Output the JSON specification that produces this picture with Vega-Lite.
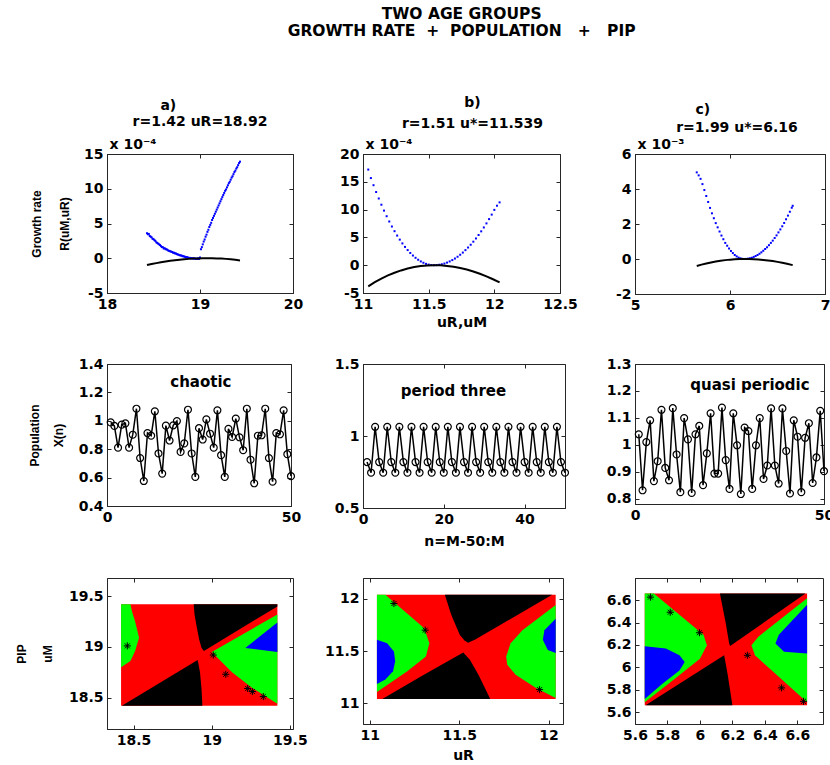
{
"$schema": "https://vega.github.io/schema/vega-lite/v6.json",
"background": "white",
"padding": {"left": 14, "top": 7, "right": 0, "bottom": 0},
"title": {"text": ["TWO AGE GROUPS", "GROWTH RATE\u00a0\u00a0+\u00a0\u00a0POPULATION\u00a0\u00a0\u00a0+\u00a0\u00a0\u00a0PIP"], "font": "DejaVu Sans", "fontSize": 15.5, "fontWeight": "bold", "lineHeight": 17, "anchor": "middle", "offset": 56, "dx": 37},
"columns": 3,
"align": "none",
"bounds": "flush",
"spacing": {"row": 70, "column": 70},
"concat": [
{
 "width": 186, "height": 139,
 "title": {"text": ["a)\u00a0\u00a0\u00a0\u00a0\u00a0\u00a0\u00a0\u00a0\u00a0\u00a0\u00a0\u00a0\u00a0\u200b", "r=1.42 uR=18.92"], "frame": "group", "offset": 8, "lineHeight": 16},
 "resolve": {"axis": {"x": "independent", "y": "independent"}},
 "layer": [
  {"encoding": {
    "x": {"field": "x", "type": "quantitative", "scale": {"domain": [18, 20], "nice": false, "zero": false}, "axis": {"values": [18, 19, 20], "labelExpr": "''+datum.value", "title": "x 10⁻⁴", "titleX": 2, "titleY": -145, "titleAngle": 0, "titleAlign": "left", "titleBaseline": "alphabetic"}},
    "y": {"field": "y", "type": "quantitative", "scale": {"domain": [-5, 15], "nice": false, "zero": false}, "axis": {"values": [-5, 0, 5, 10, 15], "labelExpr": "''+datum.value", "title": ["Growth rate", "R(uM,uR)"], "titlePadding": 12, "titleLineHeight": 28, "titleFont": "Liberation Sans", "titleFontSize": 12}}
   },
   "layer": [
    {"data": {"name": "ga_dots"}, "mark": {"type": "point", "shape": "square", "filled": true, "size": 4, "color": "#0000ff", "opacity": 1}},
    {"data": {"name": "ga_curve"}, "mark": {"type": "line", "color": "#000000", "strokeWidth": 2}}
   ]},
  {"data": {"values": [{"x": 19, "y": 0}]}, "mark": {"type": "point", "opacity": 0},
   "encoding": {
    "x": {"field": "x", "type": "quantitative", "scale": {"domain": [18, 20], "nice": false, "zero": false}, "axis": {"orient": "top", "values": [18, 19, 20], "labels": false, "domain": false, "title": null}},
    "y": {"field": "y", "type": "quantitative", "scale": {"domain": [-5, 15], "nice": false, "zero": false}, "axis": {"orient": "right", "values": [-5, 0, 5, 10, 15], "labels": false, "domain": false, "title": null}}
   }}
 ]
},
{
 "width": 197, "height": 139,
 "title": {"text": ["b)", "r=1.51 u*=11.539"], "frame": "group", "offset": 6, "lineHeight": 21, "dx": 11},
 "resolve": {"axis": {"x": "independent", "y": "independent"}},
 "layer": [
  {"encoding": {
    "x": {"field": "x", "type": "quantitative", "scale": {"domain": [11, 12.5], "nice": false, "zero": false}, "axis": {"values": [11, 11.5, 12, 12.5], "labelExpr": "''+datum.value", "title": "uR,uM", "titlePadding": 4}},
    "y": {"field": "y", "type": "quantitative", "scale": {"domain": [-5, 20], "nice": false, "zero": false}, "axis": {"values": [-5, 0, 5, 10, 15, 20], "labelExpr": "''+datum.value", "title": "x 10⁻⁴", "titleX": 2, "titleY": -6, "titleAngle": 0, "titleAlign": "left", "titleBaseline": "alphabetic"}}
   },
   "layer": [
    {"data": {"name": "gb_dots"}, "mark": {"type": "point", "shape": "square", "filled": true, "size": 4, "color": "#0000ff", "opacity": 1}},
    {"data": {"name": "gb_curve"}, "mark": {"type": "line", "color": "#000000", "strokeWidth": 2}}
   ]},
  {"data": {"values": [{"x": 11.5, "y": 0}]}, "mark": {"type": "point", "opacity": 0},
   "encoding": {
    "x": {"field": "x", "type": "quantitative", "scale": {"domain": [11, 12.5], "nice": false, "zero": false}, "axis": {"orient": "top", "values": [11, 11.5, 12, 12.5], "labels": false, "domain": false, "title": null}},
    "y": {"field": "y", "type": "quantitative", "scale": {"domain": [-5, 20], "nice": false, "zero": false}, "axis": {"orient": "right", "values": [-5, 0, 5, 10, 15, 20], "labels": false, "domain": false, "title": null}}
   }}
 ]
},
{
 "width": 190, "height": 140,
 "title": {"text": ["c)\u00a0\u00a0\u00a0\u00a0\u00a0\u00a0\u00a0\u00a0\u00a0\u00a0\u00a0\u00a0\u00a0\u00a0\u200b", "r=1.99 u*=6.16"], "frame": "group", "offset": 2, "lineHeight": 18, "dx": 7},
 "resolve": {"axis": {"x": "independent", "y": "independent"}},
 "layer": [
  {"encoding": {
    "x": {"field": "x", "type": "quantitative", "scale": {"domain": [5, 7], "nice": false, "zero": false}, "axis": {"values": [5, 6, 7], "labelExpr": "''+datum.value", "title": null}},
    "y": {"field": "y", "type": "quantitative", "scale": {"domain": [-2, 6], "nice": false, "zero": false}, "axis": {"values": [-2, 0, 2, 4, 6], "labelExpr": "''+datum.value", "title": "x 10⁻³", "titleX": 2, "titleY": -6, "titleAngle": 0, "titleAlign": "left", "titleBaseline": "alphabetic"}}
   },
   "layer": [
    {"data": {"name": "gc_dots"}, "mark": {"type": "point", "shape": "square", "filled": true, "size": 4, "color": "#0000ff", "opacity": 1}},
    {"data": {"name": "gc_curve"}, "mark": {"type": "line", "color": "#000000", "strokeWidth": 2}}
   ]},
  {"data": {"values": [{"x": 6, "y": 0}]}, "mark": {"type": "point", "opacity": 0},
   "encoding": {
    "x": {"field": "x", "type": "quantitative", "scale": {"domain": [5, 7], "nice": false, "zero": false}, "axis": {"orient": "top", "values": [5, 6, 7], "labels": false, "domain": false, "title": null}},
    "y": {"field": "y", "type": "quantitative", "scale": {"domain": [-2, 6], "nice": false, "zero": false}, "axis": {"orient": "right", "values": [-2, 0, 2, 4, 6], "labels": false, "domain": false, "title": null}}
   }}
 ]
},
{
 "width": 184, "height": 142,
 "resolve": {"axis": {"x": "independent", "y": "independent"}},
 "layer": [
  {"encoding": {
    "x": {"field": "x", "type": "quantitative", "scale": {"domain": [0, 50], "nice": false, "zero": false}, "axis": {"values": [0, 50], "labelExpr": "''+datum.value", "title": null}},
    "y": {"field": "y", "type": "quantitative", "scale": {"domain": [0.4, 1.4], "nice": false, "zero": false}, "axis": {"values": [0.4, 0.6, 0.8, 1, 1.2, 1.4], "labelExpr": "''+datum.value", "title": ["Population", "X(n)"], "titlePadding": 13, "titleLineHeight": 24, "titleFont": "Liberation Sans", "titleFontSize": 12}}
   },
   "layer": [
    {"data": {"name": "pa"}, "mark": {"type": "line", "color": "#000000", "strokeWidth": 1.5}},
    {"data": {"name": "pa"}, "mark": {"type": "point", "shape": "circle", "filled": false, "size": 48, "stroke": "#000000", "strokeWidth": 1.2, "opacity": 1}},
    {"data": {"values": [{"x": 25.5, "y": 1.27, "t": "chaotic"}]}, "mark": {"type": "text", "font": "DejaVu Sans", "fontSize": 15, "fontWeight": "bold", "color": "#000000"}, "encoding": {"text": {"field": "t"}}}
   ]},
  {"data": {"values": [{"x": 25, "y": 1}]}, "mark": {"type": "point", "opacity": 0},
   "encoding": {
    "x": {"field": "x", "type": "quantitative", "scale": {"domain": [0, 50], "nice": false, "zero": false}, "axis": {"orient": "top", "values": [0, 50], "labels": false, "domain": false, "title": null}},
    "y": {"field": "y", "type": "quantitative", "scale": {"domain": [0.4, 1.4], "nice": false, "zero": false}, "axis": {"orient": "right", "values": [0.4, 0.6, 0.8, 1, 1.2, 1.4], "labels": false, "domain": false, "title": null}}
   }}
 ]
},
{
 "width": 202, "height": 144,
 "resolve": {"axis": {"x": "independent", "y": "independent"}},
 "layer": [
  {"encoding": {
    "x": {"field": "x", "type": "quantitative", "scale": {"domain": [0, 50], "nice": false, "zero": false}, "axis": {"values": [0, 20, 40], "labelExpr": "''+datum.value", "title": "n=M-50:M", "titlePadding": 8}},
    "y": {"field": "y", "type": "quantitative", "scale": {"domain": [0.5, 1.5], "nice": false, "zero": false}, "axis": {"values": [0.5, 1, 1.5], "labelExpr": "''+datum.value", "title": null}}
   },
   "layer": [
    {"data": {"name": "pb"}, "mark": {"type": "line", "color": "#000000", "strokeWidth": 1.5}},
    {"data": {"name": "pb"}, "mark": {"type": "point", "shape": "circle", "filled": false, "size": 48, "stroke": "#000000", "strokeWidth": 1.2, "opacity": 1}},
    {"data": {"values": [{"x": 22.4, "y": 1.31, "t": "period three"}]}, "mark": {"type": "text", "font": "DejaVu Sans", "fontSize": 15, "fontWeight": "bold", "color": "#000000"}, "encoding": {"text": {"field": "t"}}}
   ]},
  {"data": {"values": [{"x": 25, "y": 1}]}, "mark": {"type": "point", "opacity": 0},
   "encoding": {
    "x": {"field": "x", "type": "quantitative", "scale": {"domain": [0, 50], "nice": false, "zero": false}, "axis": {"orient": "top", "values": [0, 20, 40], "labels": false, "domain": false, "title": null}},
    "y": {"field": "y", "type": "quantitative", "scale": {"domain": [0.5, 1.5], "nice": false, "zero": false}, "axis": {"orient": "right", "values": [0.5, 1, 1.5], "labels": false, "domain": false, "title": null}}
   }}
 ]
},
{
 "width": 189, "height": 140,
 "resolve": {"axis": {"x": "independent", "y": "independent"}},
 "layer": [
  {"encoding": {
    "x": {"field": "x", "type": "quantitative", "scale": {"domain": [0, 50], "nice": false, "zero": false}, "axis": {"values": [0, 50], "labelExpr": "''+datum.value", "title": null}},
    "y": {"field": "y", "type": "quantitative", "scale": {"domain": [0.78, 1.3], "nice": false, "zero": false}, "axis": {"values": [0.8, 0.9, 1, 1.1, 1.2, 1.3], "labelExpr": "''+datum.value", "title": null}}
   },
   "layer": [
    {"data": {"name": "pc"}, "mark": {"type": "line", "color": "#000000", "strokeWidth": 1.5}},
    {"data": {"name": "pc"}, "mark": {"type": "point", "shape": "circle", "filled": false, "size": 48, "stroke": "#000000", "strokeWidth": 1.2, "opacity": 1}},
    {"data": {"values": [{"x": 30.4, "y": 1.222, "t": "quasi periodic"}]}, "mark": {"type": "text", "font": "DejaVu Sans", "fontSize": 15, "fontWeight": "bold", "color": "#000000"}, "encoding": {"text": {"field": "t"}}}
   ]},
  {"data": {"values": [{"x": 25, "y": 1}]}, "mark": {"type": "point", "opacity": 0},
   "encoding": {
    "x": {"field": "x", "type": "quantitative", "scale": {"domain": [0, 50], "nice": false, "zero": false}, "axis": {"orient": "top", "values": [0, 50], "labels": false, "domain": false, "title": null}},
    "y": {"field": "y", "type": "quantitative", "scale": {"domain": [0.78, 1.3], "nice": false, "zero": false}, "axis": {"orient": "right", "values": [0.8, 0.9, 1, 1.1, 1.2, 1.3], "labels": false, "domain": false, "title": null}}
   }}
 ]
},
{
 "width": 186, "height": 151,
 "resolve": {"axis": {"x": "independent", "y": "independent"}},
 "layer": [
  {"encoding": {
    "x": {"field": "x", "type": "quantitative", "scale": {"domain": [18.33, 19.52], "nice": false, "zero": false}, "axis": {"values": [18.5, 19, 19.5], "labelExpr": "''+datum.value", "title": null}},
    "y": {"field": "y", "type": "quantitative", "scale": {"domain": [18.19, 19.68], "nice": false, "zero": false}, "axis": {"values": [18.5, 19, 19.5], "labelExpr": "''+datum.value", "title": ["PIP", "uM"], "titlePadding": 14, "titleLineHeight": 26, "titleFont": "Liberation Sans", "titleFontSize": 12}}
   },
   "layer": [
    {"data": {"values": [{"x": 18.42, "x2": 19.42, "y": 18.42, "y2": 19.42}]}, "mark": {"type": "rect", "color": "#ff0000"}, "encoding": {"x2": {"field": "x2"}, "y2": {"field": "y2"}}},
    {"data": {"name": "pipa_v"}, "mark": {"type": "area", "orient": "vertical", "color": "#000000", "opacity": 1}, "encoding": {"y2": {"field": "y2"}, "detail": {"field": "r"}}},
    {"data": {"name": "pipa_h"}, "transform": [{"filter": "datum.c == 'g'"}], "mark": {"type": "area", "orient": "horizontal", "color": "#00ff00", "opacity": 1}, "encoding": {"x2": {"field": "x2"}, "detail": {"field": "r"}}},
    {"data": {"name": "pipa_h"}, "transform": [{"filter": "datum.c == 'b'"}], "mark": {"type": "area", "orient": "horizontal", "color": "#0000ff", "opacity": 1}, "encoding": {"x2": {"field": "x2"}, "detail": {"field": "r"}}},
    {"data": {"name": "pipa_s"}, "mark": {"type": "point", "shape": "M-1,0L1,0M0,-1L0,1M-0.7,-0.7L0.7,0.7M-0.7,0.7L0.7,-0.7", "filled": false, "size": 50, "stroke": "#000000", "strokeWidth": 1, "opacity": 1}}
   ]},
  {"data": {"values": [{"x": 19, "y": 19}]}, "mark": {"type": "point", "opacity": 0},
   "encoding": {
    "x": {"field": "x", "type": "quantitative", "scale": {"domain": [18.33, 19.52], "nice": false, "zero": false}, "axis": {"orient": "top", "values": [18.5, 19, 19.5], "labels": false, "domain": false, "title": null}},
    "y": {"field": "y", "type": "quantitative", "scale": {"domain": [18.19, 19.68], "nice": false, "zero": false}, "axis": {"orient": "right", "values": [18.5, 19, 19.5], "labels": false, "domain": false, "title": null}}
   }}
 ]
},
{
 "width": 200, "height": 146,
 "resolve": {"axis": {"x": "independent", "y": "independent"}},
 "layer": [
  {"encoding": {
    "x": {"field": "x", "type": "quantitative", "scale": {"domain": [10.962, 12.081], "nice": false, "zero": false}, "axis": {"values": [11, 11.5, 12], "labelExpr": "''+datum.value", "title": "uR", "titlePadding": 6}},
    "y": {"field": "y", "type": "quantitative", "scale": {"domain": [10.8, 12.2], "nice": false, "zero": false}, "axis": {"values": [11, 11.5, 12], "labelExpr": "''+datum.value", "title": null}}
   },
   "layer": [
    {"data": {"values": [{"x": 11.04, "x2": 12.04, "y": 11.04, "y2": 12.04}]}, "mark": {"type": "rect", "color": "#ff0000"}, "encoding": {"x2": {"field": "x2"}, "y2": {"field": "y2"}}},
    {"data": {"name": "pipb_v"}, "mark": {"type": "area", "orient": "vertical", "color": "#000000", "opacity": 1}, "encoding": {"y2": {"field": "y2"}, "detail": {"field": "r"}}},
    {"data": {"name": "pipb_h"}, "transform": [{"filter": "datum.c == 'g'"}], "mark": {"type": "area", "orient": "horizontal", "color": "#00ff00", "opacity": 1}, "encoding": {"x2": {"field": "x2"}, "detail": {"field": "r"}}},
    {"data": {"name": "pipb_h"}, "transform": [{"filter": "datum.c == 'b'"}], "mark": {"type": "area", "orient": "horizontal", "color": "#0000ff", "opacity": 1}, "encoding": {"x2": {"field": "x2"}, "detail": {"field": "r"}}},
    {"data": {"name": "pipb_s"}, "mark": {"type": "point", "shape": "M-1,0L1,0M0,-1L0,1M-0.7,-0.7L0.7,0.7M-0.7,0.7L0.7,-0.7", "filled": false, "size": 50, "stroke": "#000000", "strokeWidth": 1, "opacity": 1}}
   ]},
  {"data": {"values": [{"x": 11.5, "y": 11.5}]}, "mark": {"type": "point", "opacity": 0},
   "encoding": {
    "x": {"field": "x", "type": "quantitative", "scale": {"domain": [10.962, 12.081], "nice": false, "zero": false}, "axis": {"orient": "top", "values": [11, 11.5, 12], "labels": false, "domain": false, "title": null}},
    "y": {"field": "y", "type": "quantitative", "scale": {"domain": [10.8, 12.2], "nice": false, "zero": false}, "axis": {"orient": "right", "values": [11, 11.5, 12], "labels": false, "domain": false, "title": null}}
   }}
 ]
},
{
 "width": 188, "height": 146,
 "resolve": {"axis": {"x": "independent", "y": "independent"}},
 "layer": [
  {"encoding": {
    "x": {"field": "x", "type": "quantitative", "scale": {"domain": [5.6, 6.758], "nice": false, "zero": false}, "axis": {"values": [5.6, 5.8, 6, 6.2, 6.4, 6.6], "labelExpr": "''+datum.value", "title": null}},
    "y": {"field": "y", "type": "quantitative", "scale": {"domain": [5.493, 6.798], "nice": false, "zero": false}, "axis": {"values": [5.6, 5.8, 6, 6.2, 6.4, 6.6], "labelExpr": "''+datum.value", "title": null}}
   },
   "layer": [
    {"data": {"values": [{"x": 5.66, "x2": 6.66, "y": 5.66, "y2": 6.66}]}, "mark": {"type": "rect", "color": "#ff0000"}, "encoding": {"x2": {"field": "x2"}, "y2": {"field": "y2"}}},
    {"data": {"name": "pipc_v"}, "mark": {"type": "area", "orient": "vertical", "color": "#000000", "opacity": 1}, "encoding": {"y2": {"field": "y2"}, "detail": {"field": "r"}}},
    {"data": {"name": "pipc_h"}, "transform": [{"filter": "datum.c == 'g'"}], "mark": {"type": "area", "orient": "horizontal", "color": "#00ff00", "opacity": 1}, "encoding": {"x2": {"field": "x2"}, "detail": {"field": "r"}}},
    {"data": {"name": "pipc_h"}, "transform": [{"filter": "datum.c == 'b'"}], "mark": {"type": "area", "orient": "horizontal", "color": "#0000ff", "opacity": 1}, "encoding": {"x2": {"field": "x2"}, "detail": {"field": "r"}}},
    {"data": {"name": "pipc_s"}, "mark": {"type": "point", "shape": "M-1,0L1,0M0,-1L0,1M-0.7,-0.7L0.7,0.7M-0.7,0.7L0.7,-0.7", "filled": false, "size": 50, "stroke": "#000000", "strokeWidth": 1, "opacity": 1}}
   ]},
  {"data": {"values": [{"x": 6, "y": 6}]}, "mark": {"type": "point", "opacity": 0},
   "encoding": {
    "x": {"field": "x", "type": "quantitative", "scale": {"domain": [5.6, 6.758], "nice": false, "zero": false}, "axis": {"orient": "top", "values": [5.6, 5.8, 6, 6.2, 6.4, 6.6], "labels": false, "domain": false, "title": null}},
    "y": {"field": "y", "type": "quantitative", "scale": {"domain": [5.493, 6.798], "nice": false, "zero": false}, "axis": {"orient": "right", "values": [5.6, 5.8, 6, 6.2, 6.4, 6.6], "labels": false, "domain": false, "title": null}}
   }}
 ]
}
],
"config": {
 "font": "DejaVu Sans",
 "view": {"stroke": "#262626", "strokeWidth": 1},
 "axis": {"labelFont": "DejaVu Sans", "labelFontSize": 14, "labelFontWeight": "bold", "labelColor": "#000000", "domainColor": "#262626", "tickColor": "#262626", "tickSize": -4, "labelPadding": 8, "grid": false, "labelFlush": false, "labelOverlap": false, "labelBound": false, "titleFont": "DejaVu Sans", "titleFontSize": 14, "titleFontWeight": "bold", "titleColor": "#000000"},
 "title": {"font": "DejaVu Sans", "fontSize": 14, "fontWeight": "bold", "color": "#000000"}
},
"datasets": {
 "ga_dots": [
  {"x":18.43,"y":3.6},{"x":18.44,"y":3.45},{"x":18.45,"y":3.5},{"x":18.46,"y":3.2},{"x":18.47,"y":3.1},{"x":18.48,"y":3.0},{"x":18.49,"y":2.8},{"x":18.50,"y":2.75},{"x":18.51,"y":2.6},{"x":18.52,"y":2.5},{"x":18.53,"y":2.3},{"x":18.54,"y":2.2},{"x":18.55,"y":2.1},{"x":18.56,"y":2.0},{"x":18.57,"y":1.9},{"x":18.58,"y":1.75},{"x":18.59,"y":1.6},{"x":18.60,"y":1.6},{"x":18.61,"y":1.4},{"x":18.62,"y":1.45},{"x":18.63,"y":1.3},{"x":18.64,"y":1.3},{"x":18.65,"y":1.2},{"x":18.66,"y":1.1},{"x":18.67,"y":1.05},{"x":18.68,"y":1.0},{"x":18.69,"y":0.95},{"x":18.70,"y":0.9},{"x":18.71,"y":0.8},{"x":18.72,"y":0.8},{"x":18.73,"y":0.7},{"x":18.74,"y":0.7},{"x":18.75,"y":0.6},{"x":18.76,"y":0.55},{"x":18.77,"y":0.5},{"x":18.78,"y":0.45},{"x":18.79,"y":0.4},{"x":18.80,"y":0.4},{"x":18.81,"y":0.3},{"x":18.82,"y":0.3},{"x":18.83,"y":0.25},{"x":18.84,"y":0.2},{"x":18.85,"y":0.15},{"x":18.86,"y":0.15},{"x":18.87,"y":0.1},{"x":18.88,"y":0.05},{"x":18.89,"y":0.05},{"x":18.90,"y":0.0},{"x":18.91,"y":0.0},{"x":18.92,"y":0.0},{"x":18.93,"y":-0.05},{"x":18.94,"y":0.0},{"x":18.95,"y":-0.1},{"x":18.96,"y":-0.05},{"x":18.97,"y":-0.1},{"x":18.98,"y":0.0},{"x":18.99,"y":-0.1},{"x":19.00,"y":0.1},
  {"x":19.01,"y":1.3},{"x":19.02,"y":1.6},{"x":19.03,"y":2.0},{"x":19.04,"y":2.4},{"x":19.05,"y":2.7},{"x":19.06,"y":3.1},{"x":19.07,"y":3.4},{"x":19.08,"y":3.8},{"x":19.09,"y":4.1},{"x":19.10,"y":4.5},{"x":19.11,"y":4.8},{"x":19.12,"y":5.1},{"x":19.13,"y":5.5},{"x":19.14,"y":5.8},{"x":19.15,"y":6.1},{"x":19.16,"y":6.4},{"x":19.17,"y":6.7},{"x":19.18,"y":7.0},{"x":19.19,"y":7.3},{"x":19.20,"y":7.6},{"x":19.21,"y":7.9},{"x":19.22,"y":8.2},{"x":19.23,"y":8.5},{"x":19.24,"y":8.8},{"x":19.25,"y":9.1},{"x":19.26,"y":9.4},{"x":19.27,"y":9.7},{"x":19.28,"y":9.9},{"x":19.29,"y":10.2},{"x":19.30,"y":10.5},{"x":19.31,"y":10.8},{"x":19.32,"y":11.0},{"x":19.33,"y":11.3},{"x":19.34,"y":11.6},{"x":19.35,"y":11.8},{"x":19.36,"y":12.1},{"x":19.37,"y":12.4},{"x":19.38,"y":12.6},{"x":19.39,"y":12.9},{"x":19.40,"y":13.1},{"x":19.41,"y":13.4},{"x":19.42,"y":13.7},{"x":19.43,"y":13.9}
 ],
 "ga_curve": [
  {"x":18.43,"y":-0.97},{"x":18.48,"y":-0.83},{"x":18.53,"y":-0.70},{"x":18.58,"y":-0.575},{"x":18.63,"y":-0.47},{"x":18.68,"y":-0.37},{"x":18.73,"y":-0.28},{"x":18.78,"y":-0.21},{"x":18.83,"y":-0.14},{"x":18.88,"y":-0.09},{"x":18.93,"y":-0.05},{"x":18.98,"y":-0.02},{"x":19.03,"y":-0.006},{"x":19.08,"y":0},{"x":19.13,"y":-0.006},{"x":19.18,"y":-0.02},{"x":19.23,"y":-0.05},{"x":19.28,"y":-0.09},{"x":19.33,"y":-0.15},{"x":19.38,"y":-0.23},{"x":19.43,"y":-0.32}
 ],
 "gb_dots": [
  {"x":11.04,"y":17.2},{"x":11.06,"y":15.67},{"x":11.08,"y":14.39},{"x":11.10,"y":13.16},{"x":11.12,"y":12.0},{"x":11.14,"y":10.88},{"x":11.16,"y":9.82},{"x":11.18,"y":8.81},{"x":11.20,"y":7.86},{"x":11.22,"y":6.96},{"x":11.24,"y":6.12},{"x":11.26,"y":5.33},{"x":11.28,"y":4.60},{"x":11.30,"y":3.92},{"x":11.32,"y":3.29},{"x":11.34,"y":2.72},{"x":11.36,"y":2.20},{"x":11.38,"y":1.74},{"x":11.40,"y":1.33},{"x":11.42,"y":0.98},{"x":11.44,"y":0.68},{"x":11.46,"y":0.44},{"x":11.48,"y":0.24},{"x":11.50,"y":0.11},{"x":11.52,"y":0.03},{"x":11.54,"y":0},
  {"x":11.56,"y":0.02},{"x":11.58,"y":0.08},{"x":11.60,"y":0.17},{"x":11.62,"y":0.30},{"x":11.64,"y":0.47},{"x":11.66,"y":0.68},{"x":11.68,"y":0.92},{"x":11.70,"y":1.20},{"x":11.72,"y":1.52},{"x":11.74,"y":1.88},{"x":11.76,"y":2.27},{"x":11.78,"y":2.71},{"x":11.80,"y":3.18},{"x":11.82,"y":3.68},{"x":11.84,"y":4.23},{"x":11.86,"y":4.81},{"x":11.88,"y":5.43},{"x":11.90,"y":6.09},{"x":11.92,"y":6.79},{"x":11.94,"y":7.52},{"x":11.96,"y":8.29},{"x":11.98,"y":9.10},{"x":12.00,"y":9.95},{"x":12.02,"y":10.7},{"x":12.04,"y":11.3}
 ],
 "gb_curve": [
  {"x":11.04,"y":-3.8},{"x":11.09,"y":-3.04},{"x":11.14,"y":-2.4},{"x":11.19,"y":-1.84},{"x":11.24,"y":-1.35},{"x":11.29,"y":-0.94},{"x":11.34,"y":-0.6},{"x":11.39,"y":-0.34},{"x":11.44,"y":-0.15},{"x":11.49,"y":-0.04},{"x":11.54,"y":0},{"x":11.59,"y":-0.03},{"x":11.64,"y":-0.125},{"x":11.69,"y":-0.28},{"x":11.74,"y":-0.5},{"x":11.79,"y":-0.78},{"x":11.84,"y":-1.125},{"x":11.89,"y":-1.53},{"x":11.94,"y":-2.0},{"x":11.99,"y":-2.53},{"x":12.04,"y":-3.1}
 ],
 "gc_dots": [
  {"x":5.65,"y":4.95},{"x":5.67,"y":4.78},{"x":5.69,"y":4.58},{"x":5.71,"y":4.28},{"x":5.73,"y":3.94},{"x":5.75,"y":3.60},{"x":5.77,"y":3.26},{"x":5.79,"y":2.92},{"x":5.81,"y":2.61},{"x":5.83,"y":2.33},{"x":5.85,"y":2.05},{"x":5.87,"y":1.81},{"x":5.89,"y":1.57},{"x":5.91,"y":1.34},{"x":5.93,"y":1.13},{"x":5.95,"y":0.92},{"x":5.97,"y":0.76},{"x":5.99,"y":0.60},{"x":6.01,"y":0.46},{"x":6.03,"y":0.34},{"x":6.05,"y":0.23},{"x":6.07,"y":0.15},{"x":6.09,"y":0.08},{"x":6.11,"y":0.04},{"x":6.13,"y":0.01},{"x":6.15,"y":0},
  {"x":6.17,"y":0.005},{"x":6.19,"y":0.02},{"x":6.21,"y":0.04},{"x":6.23,"y":0.07},{"x":6.25,"y":0.12},{"x":6.27,"y":0.17},{"x":6.29,"y":0.23},{"x":6.31,"y":0.30},{"x":6.33,"y":0.38},{"x":6.35,"y":0.47},{"x":6.37,"y":0.57},{"x":6.39,"y":0.67},{"x":6.41,"y":0.79},{"x":6.43,"y":0.92},{"x":6.45,"y":1.05},{"x":6.47,"y":1.20},{"x":6.49,"y":1.35},{"x":6.51,"y":1.52},{"x":6.53,"y":1.69},{"x":6.55,"y":1.87},{"x":6.57,"y":2.06},{"x":6.59,"y":2.27},{"x":6.61,"y":2.48},{"x":6.63,"y":2.70},{"x":6.65,"y":2.93},{"x":6.66,"y":3.04}
 ],
 "gc_curve": [
  {"x":5.65,"y":-0.40},{"x":5.70,"y":-0.32},{"x":5.75,"y":-0.26},{"x":5.80,"y":-0.20},{"x":5.85,"y":-0.14},{"x":5.90,"y":-0.10},{"x":5.95,"y":-0.064},{"x":6.00,"y":-0.036},{"x":6.05,"y":-0.016},{"x":6.10,"y":-0.004},{"x":6.15,"y":0},{"x":6.20,"y":-0.003},{"x":6.25,"y":-0.0135},{"x":6.30,"y":-0.03},{"x":6.35,"y":-0.054},{"x":6.40,"y":-0.084},{"x":6.45,"y":-0.12},{"x":6.50,"y":-0.165},{"x":6.55,"y":-0.216},{"x":6.60,"y":-0.27},{"x":6.66,"y":-0.35}
 ],
 "pa": [
  {"x":1,"y":0.989},{"x":2,"y":0.964},{"x":3,"y":0.811},{"x":4,"y":0.973},{"x":5,"y":0.982},{"x":6,"y":0.811},{"x":7,"y":0.902},{"x":8,"y":1.085},{"x":9,"y":0.738},{"x":10,"y":0.576},{"x":11,"y":0.914},{"x":12,"y":0.895},{"x":13,"y":1.067},{"x":14,"y":0.770},{"x":15,"y":0.628},{"x":16,"y":0.966},{"x":17,"y":0.861},{"x":18,"y":0.968},{"x":19,"y":0.998},{"x":20,"y":0.781},{"x":21,"y":0.841},{"x":22,"y":1.078},{"x":23,"y":0.770},{"x":24,"y":0.605},{"x":25,"y":0.948},{"x":26,"y":0.868},{"x":27,"y":1.010},{"x":28,"y":0.909},{"x":29,"y":0.811},{"x":30,"y":1.074},{"x":31,"y":0.758},{"x":32,"y":0.605},{"x":33,"y":0.943},{"x":34,"y":0.886},{"x":35,"y":1.016},{"x":36,"y":0.884},{"x":37,"y":0.793},{"x":38,"y":1.085},{"x":39,"y":0.726},{"x":40,"y":0.560},{"x":41,"y":0.895},{"x":42,"y":0.898},{"x":43,"y":1.085},{"x":44,"y":0.738},{"x":45,"y":0.571},{"x":46,"y":0.914},{"x":47,"y":0.905},{"x":48,"y":1.074},{"x":49,"y":0.765},{"x":50,"y":0.610}
 ],
 "pb": [
  {"x":1,"y":0.819},{"x":2,"y":0.745},{"x":3,"y":1.064},{"x":4,"y":0.819},{"x":5,"y":0.745},{"x":6,"y":1.064},{"x":7,"y":0.819},{"x":8,"y":0.745},{"x":9,"y":1.064},{"x":10,"y":0.819},{"x":11,"y":0.745},{"x":12,"y":1.064},{"x":13,"y":0.819},{"x":14,"y":0.745},{"x":15,"y":1.064},{"x":16,"y":0.819},{"x":17,"y":0.745},{"x":18,"y":1.064},{"x":19,"y":0.819},{"x":20,"y":0.745},{"x":21,"y":1.064},{"x":22,"y":0.819},{"x":23,"y":0.745},{"x":24,"y":1.064},{"x":25,"y":0.819},{"x":26,"y":0.745},{"x":27,"y":1.064},{"x":28,"y":0.819},{"x":29,"y":0.745},{"x":30,"y":1.064},{"x":31,"y":0.819},{"x":32,"y":0.745},{"x":33,"y":1.064},{"x":34,"y":0.819},{"x":35,"y":0.745},{"x":36,"y":1.064},{"x":37,"y":0.819},{"x":38,"y":0.745},{"x":39,"y":1.064},{"x":40,"y":0.819},{"x":41,"y":0.745},{"x":42,"y":1.064},{"x":43,"y":0.819},{"x":44,"y":0.745},{"x":45,"y":1.064},{"x":46,"y":0.819},{"x":47,"y":0.745},{"x":48,"y":1.064},{"x":49,"y":0.819},{"x":50,"y":0.745}
 ],
 "pc": [
  {"x":1,"y":1.039},{"x":2,"y":0.831},{"x":3,"y":1.010},{"x":4,"y":1.091},{"x":5,"y":0.865},{"x":6,"y":0.939},{"x":7,"y":1.130},{"x":8,"y":0.914},{"x":9,"y":0.868},{"x":10,"y":1.136},{"x":11,"y":0.964},{"x":12,"y":0.824},{"x":13,"y":1.099},{"x":14,"y":1.020},{"x":15,"y":0.821},{"x":16,"y":1.039},{"x":17,"y":1.070},{"x":18,"y":0.850},{"x":19,"y":0.968},{"x":20,"y":1.117},{"x":21,"y":0.893},{"x":22,"y":0.893},{"x":23,"y":1.138},{"x":24,"y":0.943},{"x":25,"y":0.836},{"x":26,"y":1.117},{"x":27,"y":0.998},{"x":28,"y":0.817},{"x":29,"y":1.064},{"x":30,"y":1.051},{"x":31,"y":0.836},{"x":32,"y":0.998},{"x":33,"y":1.099},{"x":34,"y":0.873},{"x":35,"y":0.923},{"x":36,"y":1.135},{"x":37,"y":0.923},{"x":38,"y":0.856},{"x":39,"y":1.135},{"x":40,"y":0.977},{"x":41,"y":0.819},{"x":42,"y":1.091},{"x":43,"y":1.030},{"x":44,"y":0.824},{"x":45,"y":1.026},{"x":46,"y":1.080},{"x":47,"y":0.858},{"x":48,"y":0.953},{"x":49,"y":1.126},{"x":50,"y":0.902}
 ],
 "pipa_v": [
  {"r":"top","x":18.885,"y":19.42,"y2":19.42},{"r":"top","x":18.89,"y":19.42,"y2":19.32},{"r":"top","x":18.905,"y":19.42,"y2":19.19},{"r":"top","x":18.92,"y":19.42,"y2":19.07},{"r":"top","x":18.935,"y":19.42,"y2":18.99},{"r":"top","x":18.95,"y":19.42,"y2":18.96},{"r":"top","x":19.42,"y":19.42,"y2":19.40},
  {"r":"bot","x":18.425,"y":18.42,"y2":18.42},{"r":"bot","x":18.91,"y":18.42,"y2":18.87},{"r":"bot","x":18.925,"y":18.42,"y2":18.75},{"r":"bot","x":18.935,"y":18.42,"y2":18.58},{"r":"bot","x":18.94,"y":18.42,"y2":18.42}
 ],
 "pipa_h": [
  {"r":"gl","c":"g","y":19.42,"x":18.42,"x2":18.48},{"r":"gl","c":"g","y":19.35,"x":18.42,"x2":18.49},{"r":"gl","c":"g","y":19.25,"x":18.42,"x2":18.51},{"r":"gl","c":"g","y":19.09,"x":18.42,"x2":18.535},{"r":"gl","c":"g","y":18.96,"x":18.42,"x2":18.51},{"r":"gl","c":"g","y":18.86,"x":18.42,"x2":18.48},{"r":"gl","c":"g","y":18.80,"x":18.42,"x2":18.42},
  {"r":"gr","c":"g","y":18.44,"x":19.42,"x2":19.42},{"r":"gr","c":"g","y":18.60,"x":19.255,"x2":19.42},{"r":"gr","c":"g","y":18.75,"x":19.13,"x2":19.42},{"r":"gr","c":"g","y":18.95,"x":19.0,"x2":19.42},{"r":"gr","c":"g","y":19.32,"x":19.42,"x2":19.42},
  {"r":"br","c":"b","y":18.95,"x":19.42,"x2":19.42},{"r":"br","c":"b","y":18.99,"x":19.215,"x2":19.42},{"r":"br","c":"b","y":19.24,"x":19.42,"x2":19.42}
 ],
 "pipa_s": [
  {"x":18.46,"y":19.01},{"x":19.01,"y":18.92},{"x":19.09,"y":18.73},{"x":19.23,"y":18.59},{"x":19.26,"y":18.56},{"x":19.33,"y":18.51}
 ],
 "pipb_v": [
  {"r":"top","x":11.42,"y":12.04,"y2":12.04},{"r":"top","x":11.456,"y":12.04,"y2":11.845},{"r":"top","x":11.504,"y":12.04,"y2":11.654},{"r":"top","x":11.53,"y":12.04,"y2":11.60},{"r":"top","x":11.55,"y":12.04,"y2":11.58},{"r":"top","x":11.59,"y":12.04,"y2":11.61},{"r":"top","x":12.02,"y":12.04,"y2":12.04},
  {"r":"bot","x":11.07,"y":11.04,"y2":11.04},{"r":"bot","x":11.30,"y":11.04,"y2":11.27},{"r":"bot","x":11.523,"y":11.04,"y2":11.486},{"r":"bot","x":11.56,"y":11.04,"y2":11.416},{"r":"bot","x":11.608,"y":11.04,"y2":11.273},{"r":"bot","x":11.674,"y":11.04,"y2":11.04}
 ],
 "pipb_h": [
  {"r":"gl","c":"g","y":12.04,"x":11.04,"x2":11.087},{"r":"gl","c":"g","y":11.717,"x":11.04,"x2":11.305},{"r":"gl","c":"g","y":11.574,"x":11.04,"x2":11.333},{"r":"gl","c":"g","y":11.448,"x":11.04,"x2":11.314},{"r":"gl","c":"g","y":11.305,"x":11.04,"x2":11.21},{"r":"gl","c":"g","y":11.108,"x":11.04,"x2":11.04},
  {"r":"gr","c":"g","y":11.05,"x":12.04,"x2":12.04},{"r":"gr","c":"g","y":11.146,"x":11.93,"x2":12.04},{"r":"gr","c":"g","y":11.273,"x":11.816,"x2":12.04},{"r":"gr","c":"g","y":11.368,"x":11.769,"x2":12.04},{"r":"gr","c":"g","y":11.448,"x":11.763,"x2":12.04},{"r":"gr","c":"g","y":11.574,"x":11.788,"x2":12.04},{"r":"gr","c":"g","y":11.70,"x":11.854,"x2":12.04},{"r":"gr","c":"g","y":11.94,"x":12.04,"x2":12.04},
  {"r":"bl","c":"b","y":11.184,"x":11.04,"x2":11.04},{"r":"bl","c":"b","y":11.226,"x":11.04,"x2":11.087},{"r":"bl","c":"b","y":11.305,"x":11.04,"x2":11.13},{"r":"bl","c":"b","y":11.40,"x":11.04,"x2":11.142},{"r":"bl","c":"b","y":11.495,"x":11.04,"x2":11.135},{"r":"bl","c":"b","y":11.574,"x":11.04,"x2":11.097},{"r":"bl","c":"b","y":11.607,"x":11.04,"x2":11.04},
  {"r":"br","c":"b","y":11.48,"x":12.04,"x2":12.04},{"r":"br","c":"b","y":11.51,"x":11.996,"x2":12.04},{"r":"br","c":"b","y":11.607,"x":11.968,"x2":12.04},{"r":"br","c":"b","y":11.70,"x":11.977,"x2":12.04},{"r":"br","c":"b","y":11.81,"x":12.04,"x2":12.04}
 ],
 "pipb_s": [
  {"x":11.135,"y":11.955},{"x":11.31,"y":11.70},{"x":11.95,"y":11.13}
 ],
 "pipc_v": [
  {"r":"top","x":6.123,"y":6.66,"y2":6.66},{"r":"top","x":6.159,"y":6.66,"y2":6.393},{"r":"top","x":6.18,"y":6.66,"y2":6.213},{"r":"top","x":6.186,"y":6.66,"y2":6.19},{"r":"top","x":6.65,"y":6.66,"y2":6.66},
  {"r":"bot","x":5.665,"y":5.66,"y2":5.66},{"r":"bot","x":6.149,"y":5.66,"y2":6.107},{"r":"bot","x":6.17,"y":5.66,"y2":5.942},{"r":"bot","x":6.20,"y":5.66,"y2":5.66}
 ],
 "pipc_h": [
  {"r":"gl","c":"g","y":6.66,"x":5.66,"x2":5.716},{"r":"gl","c":"g","y":6.29,"x":5.66,"x2":6.022},{"r":"gl","c":"g","y":6.197,"x":5.66,"x2":6.043},{"r":"gl","c":"g","y":6.077,"x":5.66,"x2":6.0},{"r":"gl","c":"g","y":5.882,"x":5.66,"x2":5.832},{"r":"gl","c":"g","y":5.687,"x":5.66,"x2":5.66},
  {"r":"gr","c":"g","y":5.687,"x":6.66,"x2":6.66},{"r":"gr","c":"g","y":5.942,"x":6.465,"x2":6.66},{"r":"gr","c":"g","y":6.107,"x":6.339,"x2":6.66},{"r":"gr","c":"g","y":6.197,"x":6.317,"x2":6.66},{"r":"gr","c":"g","y":6.273,"x":6.36,"x2":6.66},{"r":"gr","c":"g","y":6.618,"x":6.66,"x2":6.66},
  {"r":"bl","c":"b","y":5.717,"x":5.66,"x2":5.66},{"r":"bl","c":"b","y":5.852,"x":5.66,"x2":5.769},{"r":"bl","c":"b","y":5.972,"x":5.66,"x2":5.874},{"r":"bl","c":"b","y":6.048,"x":5.66,"x2":5.906},{"r":"bl","c":"b","y":6.107,"x":5.66,"x2":5.874},{"r":"bl","c":"b","y":6.168,"x":5.66,"x2":5.79},{"r":"bl","c":"b","y":6.188,"x":5.66,"x2":5.66},
  {"r":"br","c":"b","y":6.123,"x":6.66,"x2":6.66},{"r":"br","c":"b","y":6.138,"x":6.518,"x2":6.66},{"r":"br","c":"b","y":6.213,"x":6.465,"x2":6.66},{"r":"br","c":"b","y":6.29,"x":6.486,"x2":6.66},{"r":"br","c":"b","y":6.42,"x":6.57,"x2":6.66},{"r":"br","c":"b","y":6.558,"x":6.66,"x2":6.66}
 ],
 "pipc_s": [
  {"x":5.695,"y":6.627},{"x":5.817,"y":6.492},{"x":5.997,"y":6.309},{"x":6.292,"y":6.107},{"x":6.503,"y":5.816},{"x":6.638,"y":5.696}
 ]
}
}
